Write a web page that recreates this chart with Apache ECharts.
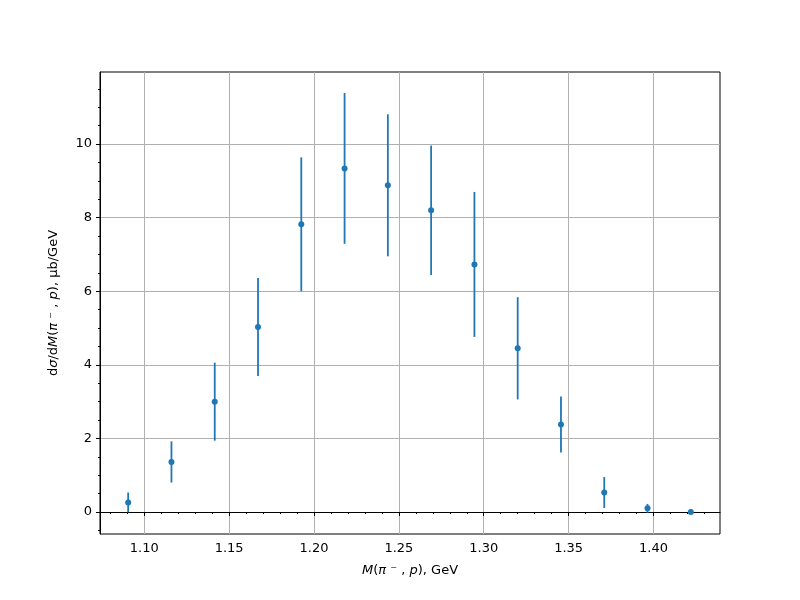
<!DOCTYPE html>
<html>
<head>
<meta charset="utf-8">
<script src="https://cdn.jsdelivr.net/npm/echarts@6/dist/echarts.min.js"></script>
<style>
  html, body { margin: 0; padding: 0; background: #fff; }
  #chart { width: 800px; height: 600px; }
</style>
</head>
<body>
<div id="chart"></div>
<script>
// bin centres, GeV
var massValues = [1.0905, 1.116, 1.1415, 1.167, 1.1925, 1.218, 1.2435, 1.269, 1.2945, 1.32, 1.3455, 1.371, 1.3965, 1.422];
// dσ/dM, μb/GeV
var xsecValues = [0.26, 1.36, 3.0, 5.03, 7.82, 9.34, 8.88, 8.20, 6.73, 4.45, 2.38, 0.53, 0.10, 0.0];
var xsecErrors = [0.27, 0.56, 1.06, 1.33, 1.82, 2.05, 1.93, 1.76, 1.97, 1.39, 0.76, 0.42, 0.12, 0.01];

var xTicks = [1.10, 1.15, 1.20, 1.25, 1.30, 1.35, 1.40];
var xMinorTicks = [1.08, 1.09, 1.11, 1.12, 1.13, 1.14, 1.16, 1.17, 1.18, 1.19, 1.21, 1.22, 1.23, 1.24,
  1.26, 1.27, 1.28, 1.29, 1.31, 1.32, 1.33, 1.34, 1.36, 1.37, 1.38, 1.39, 1.41, 1.42, 1.43];
var yTicks = [0, 2, 4, 6, 8, 10];
var yMinorTicks = [-0.5, 0.5, 1, 1.5, 2.5, 3, 3.5, 4.5, 5, 5.5, 6.5, 7, 7.5, 8.5, 9, 9.5, 10.5, 11, 11.5];

var xMin = 1.0739, xMax = 1.4392;
var yMin = -0.598, yMax = 11.96;

var FONT = "DejaVu Sans";
var BLUE = "#1f77b4";

var chart = echarts.init(document.getElementById("chart"));

var points = massValues.map(function (m, i) { return [m, xsecValues[i]]; });
var bars = massValues.map(function (m, i) { return [m, xsecValues[i], xsecErrors[i]]; });

function majorAxis(ticks, fmt) {
  return {
    axisLine: { show: true, lineStyle: { color: "#000", width: 1 } },
    axisTick: { show: true, inside: false, length: 4, customValues: ticks, lineStyle: { color: "#000", width: 1 } },
    axisLabel: { show: true, customValues: ticks, color: "#000", fontFamily: FONT, fontSize: 13, formatter: fmt },
    splitLine: { show: true, customValues: ticks, lineStyle: { color: "#b0b0b0", width: 1 } }
  };
}

var xMajor = majorAxis(xTicks, function (v) { return v.toFixed(2); });
var yMajor = majorAxis(yTicks, function (v) { return String(Math.round(v)); });

var option = {
  animation: false,
  backgroundColor: "#fff",
  grid: {
    left: 100, right: 80, top: 72, bottom: 66,
    show: true, borderColor: "#000", borderWidth: 1, backgroundColor: "transparent"
  },
  xAxis: [
    Object.assign({
      type: "value", min: xMin, max: xMax,
      name: "{i|M}({i|π} ⁻ , {i|p}), GeV",
      nameLocation: "middle", nameGap: 30,
      nameTextStyle: {
        color: "#000", fontFamily: FONT, fontSize: 13,
        rich: { i: { fontStyle: "italic", fontFamily: FONT, fontSize: 13, color: "#000" } }
      }
    }, xMajor),
    {
      type: "value", min: xMin, max: xMax, position: "bottom",
      axisLine: { show: false },
      axisTick: { show: true, length: 2, customValues: xMinorTicks, lineStyle: { color: "#000", width: 1 } },
      axisLabel: { show: false },
      splitLine: { show: false }
    }
  ],
  yAxis: [
    Object.assign({
      type: "value", min: yMin, max: yMax,
      name: "d{i|σ}/d{i|M}({i|π} ⁻ , {i|p}), μb/GeV",
      nameLocation: "middle", nameGap: 40, nameRotate: 90,
      nameTextStyle: {
        color: "#000", fontFamily: FONT, fontSize: 13,
        rich: { i: { fontStyle: "italic", fontFamily: FONT, fontSize: 13, color: "#000" } }
      }
    }, yMajor),
    {
      type: "value", min: yMin, max: yMax, position: "left",
      axisLine: { show: false },
      axisTick: { show: true, length: 2, customValues: yMinorTicks, lineStyle: { color: "#000", width: 1 } },
      axisLabel: { show: false },
      splitLine: { show: false }
    }
  ],
  series: [
    {
      type: "custom",
      xAxisIndex: 0, yAxisIndex: 0,
      data: bars,
      z: 3,
      renderItem: function (params, api) {
        var x = api.value(0), y = api.value(1), e = api.value(2);
        var lo = api.coord([x, y - e]);
        var hi = api.coord([x, y + e]);
        return {
          type: "line",
          shape: { x1: lo[0], y1: lo[1], x2: hi[0], y2: hi[1] },
          style: { stroke: BLUE, lineWidth: 1.8 }
        };
      }
    },
    {
      type: "scatter",
      xAxisIndex: 0, yAxisIndex: 0,
      data: points,
      symbol: "circle",
      symbolSize: 6,
      z: 4,
      itemStyle: { color: BLUE, opacity: 1 }
    }
  ]
};

chart.setOption(option);
</script>
</body>
</html>
